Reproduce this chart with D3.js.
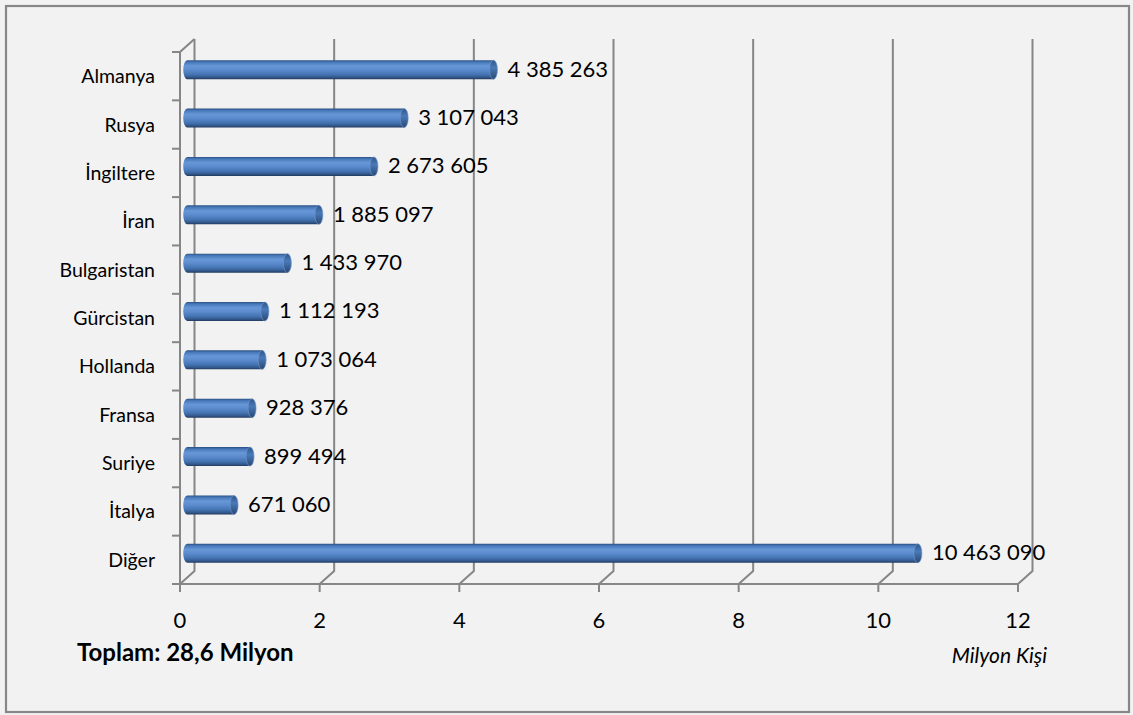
<!DOCTYPE html>
<html lang="tr">
<head>
<meta charset="utf-8">
<script src="https://cdn.jsdelivr.net/npm/d3@7"></script>
<style>
  html, body { margin: 0; padding: 0; background: #f2f2f2; }
  svg { display: block; }
  text { font-family: Lato, "Open Sans", "Liberation Sans", sans-serif; fill: #000; }
</style>
</head>
<body>
<svg id="chart" width="1133" height="715"></svg>
<script>
// Countries, top to bottom
const categories = ["Almanya", "Rusya", "İngiltere", "İran", "Bulgaristan", "Gürcistan",
                    "Hollanda", "Fransa", "Suriye", "İtalya", "Diğer"];
// Visitors (persons)
const visitors = [4385263, 3107043, 2673605, 1885097, 1433970, 1112193,
                  1073064, 928376, 899494, 671060, 10463090];
// Axis ticks in millions
const xTicks = [0, 2, 4, 6, 8, 10, 12];
const totalLabel = "Toplam: 28,6 Milyon";
const unitLabel = "Milyon Kişi";

const W = 1133, H = 715;
const svg = d3.select("#chart");

// Frame
svg.append("rect")
  .attr("x", 6).attr("y", 6).attr("width", W - 10).attr("height", H - 9)
  .attr("fill", "#f2f2f2").attr("stroke", "#878787").attr("stroke-width", 2.2);

// Plot geometry: front floor edge and back wall offset (3-D depth)
const floorY = 584, topY = 52;
const depthX = 14.5, depthY = -13;
const x = d3.scaleLinear().domain([0, 12]).range([180, 1018]);
const y = d3.scaleBand().domain(categories).range([topY, floorY]).paddingInner(0).paddingOuter(0);

const grid = svg.append("g").attr("fill", "none").attr("stroke", "#868686").attr("stroke-width", 2);

// Back-wall gridlines with their floor diagonals
xTicks.forEach(t => {
  const xf = x(t), xb = x(t) + depthX;
  grid.append("path").attr("d", `M${xb},${topY + depthY}V${floorY + depthY}L${xf},${floorY}`);
  grid.append("line").attr("x1", xf).attr("x2", xf).attr("y1", floorY).attr("y2", floorY + 8);
});

// Floor front edge (value axis) and left wall
grid.append("line").attr("x1", x(0) - 8).attr("x2", x(12)).attr("y1", floorY).attr("y2", floorY);
grid.append("path").attr("d", `M${x(0)},${floorY + 8}V${topY}L${x(0) + depthX},${topY + depthY}`);
const bounds = categories.map(c => y(c)).concat([floorY]);
bounds.forEach(b => {
  grid.append("line").attr("x1", x(0) - 8).attr("x2", x(0)).attr("y1", b).attr("y2", b);
});

// Cylinder shading
const defs = svg.append("defs");
const body = defs.append("linearGradient").attr("id", "barBody")
  .attr("x1", 0).attr("y1", 0).attr("x2", 0).attr("y2", 1);
[[0, "#2a4f80"], [0.1, "#4677b8"], [0.3, "#6797d6"], [0.5, "#5c8cce"],
 [0.75, "#4574b3"], [0.9, "#33598d"], [1, "#22395c"]]
  .forEach(([o, c]) => body.append("stop").attr("offset", o).attr("stop-color", c));
const cap = defs.append("linearGradient").attr("id", "barCap")
  .attr("x1", 0).attr("y1", 0).attr("x2", 0).attr("y2", 1);
[[0, "#2e5587"], [0.4, "#4a79b8"], [1, "#2a4870"]]
  .forEach(([o, c]) => cap.append("stop").attr("offset", o).attr("stop-color", c));

const barH = 19, rx = 4;
const midX = depthX / 2, midY = depthY / 2;
const fmt = d3.formatLocale({ decimal: ",", thousands: " ", grouping: [3], currency: ["", ""] }).format(",d");

const bars = svg.append("g");
categories.forEach((c, i) => {
  const v = visitors[i] / 1e6;
  const x0 = x(0) + midX, x1 = x(v) + midX;
  const cy = y(c) + y.bandwidth() / 2 + midY;
  const top = cy - barH / 2, bot = cy + barH / 2;
  bars.append("path")
    .attr("d", `M${x1},${top}H${x0}A${rx},${barH / 2} 0 0 0 ${x0},${bot}H${x1}Z`)
    .attr("fill", "url(#barBody)");
  bars.append("ellipse")
    .attr("cx", x1).attr("cy", cy).attr("rx", rx).attr("ry", barH / 2)
    .attr("fill", "url(#barCap)").attr("stroke", "#6f9bd3").attr("stroke-width", 0.6);
  // Value label
  svg.append("text")
    .attr("x", x1 + 14).attr("y", cy - 1).attr("dy", "0.36em")
    .attr("font-size", 22).text(fmt(visitors[i]));
  // Category label
  svg.append("text")
    .attr("x", 155).attr("y", y(c) + y.bandwidth() / 2).attr("dy", "0.36em")
    .attr("text-anchor", "end").attr("font-size", 19.5).text(c);
});

// Value axis labels
xTicks.forEach(t => {
  svg.append("text")
    .attr("x", x(t)).attr("y", 620).attr("dy", "0.36em")
    .attr("text-anchor", "middle").attr("font-size", 22).text(t);
});

svg.append("text").attr("x", 77).attr("y", 652).attr("dy", "0.36em")
  .attr("font-size", 24).attr("font-weight", "bold").text(totalLabel);
svg.append("text").attr("x", 1047).attr("y", 655).attr("dy", "0.36em")
  .attr("text-anchor", "end").attr("font-size", 21).attr("font-style", "italic").text(unitLabel);
</script>
</body>
</html>
